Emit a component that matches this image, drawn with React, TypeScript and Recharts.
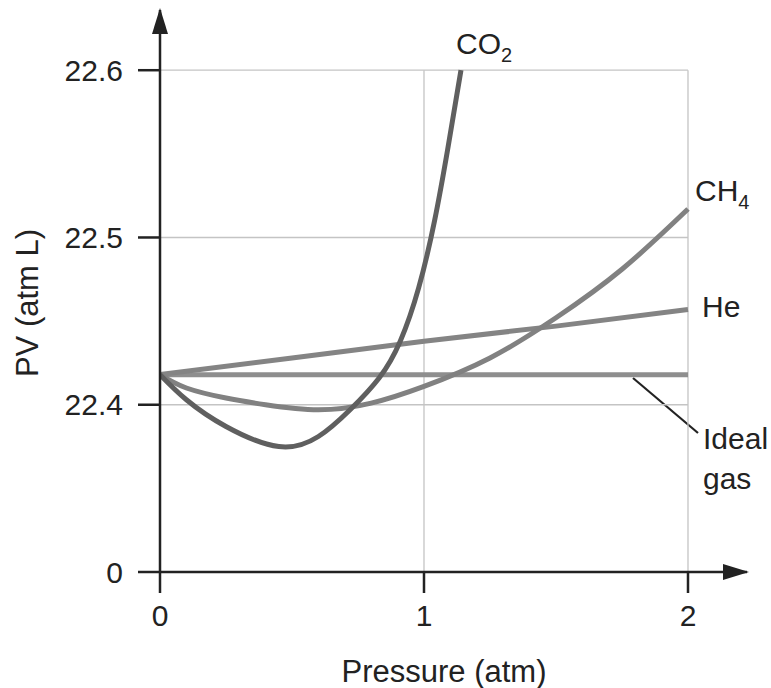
import { LineChart, Line, XAxis, YAxis, ReferenceLine, Customized } from 'recharts'

const FONT = '"Liberation Sans", Arial, sans-serif'
const INK = '#222222'

// axis ticks (the bottom y tick stands for 0 on a broken axis)
const X_TICKS = [0, 1, 2]
const Y_TICKS = [22.3, 22.4, 22.5, 22.6]
const Y_TICK_LABELS = ['0', '22.4', '22.5', '22.6']
const GRID_Y = [22.4, 22.5, 22.6]
const GRID_X = [1, 2]

// PV (atm L) (atm)
const IDEAL_P = [0, 0.5, 1, 1.5, 2]
const IDEAL_PV = [22.418, 22.418, 22.418, 22.418, 22.418]

const HE_P = [0, 0.5, 1, 1.5, 2]
const HE_PV = [22.418, 22.428, 22.438, 22.447, 22.457]

const CH4_P = [0, 0.1, 0.25, 0.4, 0.6, 0.8, 1, 1.25, 1.5, 1.75, 2]
const CH4_PV = [22.418, 22.41, 22.404, 22.4, 22.397, 22.401, 22.411, 22.428, 22.452, 22.481, 22.517]

const CO2_P = [0, 0.1, 0.25, 0.45, 0.6, 0.72, 0.83, 0.91, 0.98, 1.04, 1.09, 1.14]
const CO2_PV = [22.418, 22.403, 22.387, 22.375, 22.381, 22.397, 22.416, 22.438, 22.47, 22.51, 22.553, 22.6]

const toRows = (p: number[], pv: number[]) => p.map((x, i) => ({ p: x, pv: pv[i] }))

const ideal = toRows(IDEAL_P, IDEAL_PV)
const helium = toRows(HE_P, HE_PV)
const methane = toRows(CH4_P, CH4_PV)
const carbonDioxide = toRows(CO2_P, CO2_PV)

const TICK_STYLE = { fill: INK, fontSize: 30, fontFamily: FONT }

function Annotations() {
    const txt = { fill: INK, fontSize: 30, fontFamily: FONT }
    return (
        <g>
            <defs>
                <marker
                    id="axisArrow"
                    viewBox="0 0 26 16"
                    markerWidth={26}
                    markerHeight={16}
                    markerUnits="userSpaceOnUse"
                    refX={24}
                    refY={8}
                    orient="auto-start-reverse"
                >
                    <path d="M0,0 L26,8 L0,16 z" fill={INK} />
                </marker>
            </defs>

            {/* series labels */}
            <text x={456} y={54} {...txt}>
                CO<tspan fontSize={20} dy={8}>2</tspan>
            </text>
            <text x={695} y={201} {...txt}>
                CH<tspan fontSize={20} dy={8}>4</tspan>
            </text>
            <text x={702} y={317} {...txt}>He</text>
            <text x={703} y={449} {...txt}>Ideal</text>
            <text x={703} y={489} {...txt}>gas</text>
            <line x1={633} y1={378} x2={698} y2={433} stroke={INK} strokeWidth={2.2} />

            {/* axis titles */}
            <text x={444} y={682} textAnchor="middle" fill={INK} fontSize={31} fontFamily={FONT}>
                Pressure (atm)
            </text>
            <text
                x={27}
                y={303}
                transform="rotate(-90 27 303)"
                textAnchor="middle"
                dominantBaseline="central"
                fill={INK}
                fontSize={31}
                fontFamily={FONT}
            >
                PV (atm L)
            </text>
        </g>
    )
}

export default function App() {
    return (
        <>
            <style>{'body{margin:0;background:#fff}'}</style>
            <LineChart
                width={771}
                height={688}
                margin={{ top: 10, right: 24, bottom: 56, left: 0 }}
            >
                <XAxis
                    type="number"
                    dataKey="p"
                    domain={[0, 2.2235]}
                    ticks={X_TICKS}
                    height={60}
                    tick={TICK_STYLE}
                    tickSize={21}
                    tickMargin={12}
                    tickLine={{ stroke: INK, strokeWidth: 2.5 }}
                    axisLine={{ stroke: INK, strokeWidth: 2.5, markerEnd: 'url(#axisArrow)' }}
                    allowDataOverflow
                />
                <YAxis
                    type="number"
                    dataKey="pv"
                    domain={[22.3, 22.636]}
                    ticks={Y_TICKS}
                    width={160}
                    tick={TICK_STYLE}
                    tickSize={22}
                    tickMargin={15}
                    tickFormatter={(v: number) => Y_TICK_LABELS[Y_TICKS.indexOf(v)] ?? String(v)}
                    tickLine={{ stroke: INK, strokeWidth: 2.5 }}
                    axisLine={{ stroke: INK, strokeWidth: 2.5, markerStart: 'url(#axisArrow)' }}
                    allowDataOverflow
                />

                {GRID_Y.map(v => (
                    <ReferenceLine
                        key={`gy${v}`}
                        segment={[{ x: 0, y: v }, { x: 2, y: v }]}
                        stroke="#c4c4c4"
                        strokeWidth={1.3}
                    />
                ))}
                {GRID_X.map(v => (
                    <ReferenceLine
                        key={`gx${v}`}
                        segment={[{ x: v, y: 22.3 }, { x: v, y: 22.6 }]}
                        stroke="#c4c4c4"
                        strokeWidth={1.3}
                    />
                ))}

                <Line data={ideal} dataKey="pv" type="linear" stroke="#8e8e8e" strokeWidth={5} dot={false} isAnimationActive={false} />
                <Line data={helium} dataKey="pv" type="linear" stroke="#848484" strokeWidth={5} dot={false} isAnimationActive={false} />
                <Line data={methane} dataKey="pv" type="natural" stroke="#818181" strokeWidth={5} dot={false} isAnimationActive={false} />
                <Line data={carbonDioxide} dataKey="pv" type="natural" stroke="#5f5f5f" strokeWidth={5} dot={false} isAnimationActive={false} />

                <Customized component={<Annotations />} />
            </LineChart>
        </>
    )
}
